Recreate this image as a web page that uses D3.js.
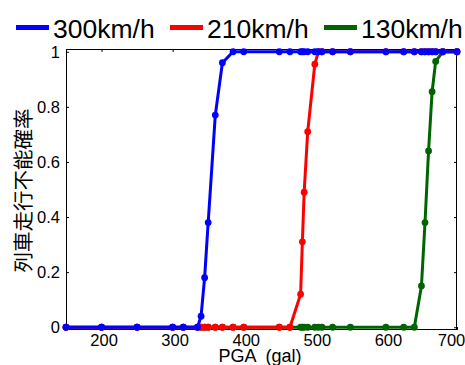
<!DOCTYPE html>
<html>
<head>
<meta charset="utf-8">
<script src="https://cdn.jsdelivr.net/npm/d3@7"></script>
<style>
  html, body { margin: 0; padding: 0; background: #fff; }
  svg { display: block; }
</style>
</head>
<body>
<script>
// PGA values (gal)
const pga = [150, 200, 250, 300, 315, 335, 340, 345, 350, 360, 370, 385, 400, 450, 465,
             480, 482.5, 485, 490, 500, 505, 510, 525, 550, 600, 625, 640,
             650, 655, 660, 665, 670, 680, 700];
const seriesNames = ["300km/h", "210km/h", "130km/h"];
const seriesColors = ["#0000ff", "#ff0000", "#006400"];
const v300 = [0, 0, 0, 0, 0, 0, 0.04, 0.18, 0.38, 0.77, 0.96, 1, 1, 1, 1,
              1, 1, 1, 1, 1, 1, 1, 1, 1, 1, 1, 1,
              1, 1, 1, 1, 1, 1, 1];
const v210 = [0, 0, 0, 0, 0, 0, 0, 0, 0, 0, 0, 0, 0, 0, 0,
              0.12, 0.31, 0.49, 0.71, 0.955, 1, 1, 1, 1, 1, 1, 1,
              1, 1, 1, 1, 1, 1, 1];
const v130 = [0, 0, 0, 0, 0, 0, 0, 0, 0, 0, 0, 0, 0, 0, 0,
              0, 0, 0, 0, 0, 0, 0, 0, 0, 0, 0, 0,
              0.15, 0.38, 0.64, 0.855, 0.965, 1, 1];
const xTicks = [200, 300, 400, 500, 600, 700];
const yTicks = [0, 0.2, 0.4, 0.6, 0.8, 1];
const xTitle = "PGA (gal)";
const yTitle = "列車走行不能確率";

const W = 465, H = 365;
const L = 66, R = 457, T = 49, B = 330;

const svg = d3.select("body").append("svg").attr("width", W).attr("height", H);
svg.append("rect").attr("width", W).attr("height", H).attr("fill", "#fff");

const x = d3.scaleLinear().domain([150, 700]).range([L, R]);
const y = d3.scaleLinear().domain([-0.01, 1.01]).range([B, T]);

const font = "'Liberation Sans', Arial, sans-serif";

// Axes: left with labels
const yAxis = d3.axisLeft(y).tickValues(yTicks).tickSizeInner(-3).tickSizeOuter(0).tickPadding(6)
  .tickFormat(d => d3.format("")(+d.toFixed(1)));
const gy = svg.append("g").attr("transform", `translate(${L},0)`).call(yAxis);
gy.selectAll("text").attr("font-family", font).attr("font-size", 16.5).attr("fill", "#000");
gy.select(".domain").remove();

const yAxisR = d3.axisRight(y).tickValues(yTicks).tickSizeInner(-3).tickSizeOuter(0).tickFormat("");
const gyr = svg.append("g").attr("transform", `translate(${R},0)`).call(yAxisR);
gyr.select(".domain").remove();

const xAxis = d3.axisBottom(x).tickValues(xTicks).tickSizeInner(-3).tickSizeOuter(0).tickPadding(4);
const gx = svg.append("g").attr("transform", `translate(0,${B})`).call(xAxis);
gx.selectAll("text").attr("font-family", font).attr("font-size", 16.5).attr("fill", "#000")
  .attr("dx", d => d === 700 ? "-6px" : "2px");
gx.select(".domain").remove();

const xAxisT = d3.axisTop(x).tickValues(xTicks).tickSizeInner(-3).tickSizeOuter(0).tickFormat("");
const gxt = svg.append("g").attr("transform", `translate(0,${T})`).call(xAxisT);
gxt.select(".domain").remove();

// Box
svg.append("rect").attr("x", L + 0.5).attr("y", T + 0.5)
  .attr("width", R - L - 1).attr("height", B - T - 1)
  .attr("fill", "none").attr("stroke", "#000").attr("stroke-width", 1);

// Series (drawn so the first series ends up on top)
const seriesVals = [v300, v210, v130];
const clip = svg.append("clipPath").attr("id", "clip").append("rect")
  .attr("x", L - 5).attr("y", T - 5).attr("width", R - L + 10).attr("height", B - T + 10);
const plot = svg.append("g").attr("clip-path", "url(#clip)");
const line = d3.line().x(d => x(d[0])).y(d => y(d[1]));
for (let s = seriesVals.length - 1; s >= 0; s--) {
  const pts = pga.map((p, i) => [p, seriesVals[s][i]]);
  const g = plot.append("g");
  g.append("path").datum(pts).attr("d", line).attr("fill", "none")
    .attr("stroke", seriesColors[s]).attr("stroke-width", 3).attr("stroke-linejoin", "round");
  g.selectAll("circle").data(pts).enter().append("circle")
    .attr("cx", d => x(d[0])).attr("cy", d => y(d[1])).attr("r", 3.4)
    .attr("fill", seriesColors[s]);
}

// Axis titles
svg.append("text").attr("x", 260).attr("y", 362).attr("text-anchor", "middle")
  .attr("font-family", font).attr("font-size", 18).style("word-spacing", "5px").text(xTitle);
svg.append("text").attr("transform", `translate(31,${(T + B) / 2 + 1}) rotate(-90)`)
  .attr("text-anchor", "middle").attr("font-family", "'Noto Sans CJK JP', sans-serif")
  .attr("font-size", 20.5).text(yTitle);

// Legend
const legX = [16, 170, 324];
seriesNames.forEach((n, i) => {
  svg.append("line").attr("x1", legX[i]).attr("x2", legX[i] + 33)
    .attr("y1", 27.5).attr("y2", 27.5).attr("stroke", seriesColors[i]).attr("stroke-width", 5);
  svg.append("text").attr("x", legX[i] + 37).attr("y", 38)
    .attr("font-family", font).attr("font-size", 26.5).attr("fill", "#000").text(n);
});
</script>
</body>
</html>
